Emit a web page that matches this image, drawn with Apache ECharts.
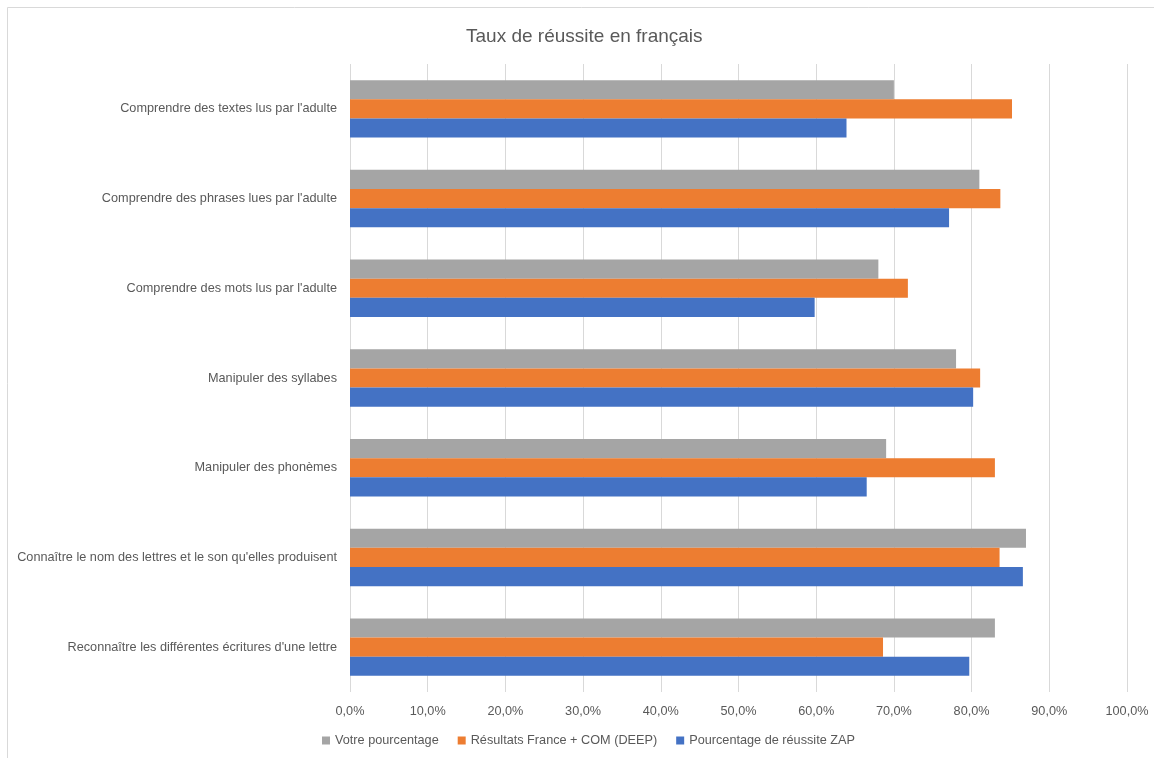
<!DOCTYPE html>
<html>
<head>
<meta charset="utf-8">
<script src="https://cdn.jsdelivr.net/npm/echarts@6/dist/echarts.min.js"></script>
<style>
html,body{margin:0;padding:0;background:#fff;}
#chart{width:1154px;height:758px;}
</style>
</head>
<body>
<div id="chart"></div>
<script>
// Categories listed bottom to top (ECharts category y-axis starts at the bottom)
var categories = [
  "Reconnaître les différentes écritures d'une lettre",
  "Connaître le nom des lettres et le son qu'elles produisent",
  "Manipuler des phonèmes",
  "Manipuler des syllabes",
  "Comprendre des mots lus par l'adulte",
  "Comprendre des phrases lues par l'adulte",
  "Comprendre des textes lus par l'adulte"
];
var votrePourcentage = [83.0, 87.0, 69.0, 78.0, 68.0, 81.0, 70.0];
var resultatsFrance = [68.6, 83.6, 83.0, 81.1, 71.8, 83.7, 85.2];
var pourcentageZAP = [79.7, 86.6, 66.5, 80.2, 59.8, 77.1, 63.9];
var seriesNames = ["Votre pourcentage", "Résultats France + COM (DEEP)", "Pourcentage de réussite ZAP"];
var titleText = "Taux de réussite en français";

var FONT = "Liberation Sans";
var TXT = "#595959";
var FS = 12.7;

var chart = echarts.init(document.getElementById('chart'));
chart.setOption({
  animation: false,
  backgroundColor: '#fff',
  graphic: [{
    type: 'rect',
    shape: {x: 7.5, y: 7.5, width: 1160, height: 1000},
    style: {fill: 'none', stroke: '#d9d9d9', lineWidth: 1},
    silent: true
  }],
  title: {
    text: titleText,
    left: 461,
    top: 22,
    textStyle: {fontFamily: FONT, fontSize: 19, fontWeight: 'normal', color: TXT}
  },
  legend: {
    bottom: 6,
    left: 317,
    data: seriesNames,
    itemWidth: 8,
    itemHeight: 8,
    itemGap: 19,
    icon: 'rect',
    textStyle: {fontFamily: FONT, fontSize: FS, color: TXT}
  },
  grid: {left: 350, right: 27, top: 64, bottom: 66, containLabel: false},
  xAxis: {
    type: 'value',
    min: 0,
    max: 100,
    interval: 10,
    axisLine: {show: false},
    axisTick: {show: false},
    splitLine: {lineStyle: {color: '#d9d9d9', width: 1}},
    axisLabel: {
      fontFamily: FONT, fontSize: FS, color: TXT, margin: 13,
      formatter: function (v) { return v.toFixed(1).replace('.', ',') + '%'; }
    }
  },
  yAxis: {
    type: 'category',
    data: categories,
    axisLine: {show: false},
    axisTick: {show: false},
    axisLabel: {fontFamily: FONT, fontSize: FS, color: TXT, margin: 13}
  },
  series: [
    {name: seriesNames[0], type: 'bar', data: votrePourcentage, itemStyle: {color: '#a5a5a5'}, barGap: '0%', barCategoryGap: '36%'},
    {name: seriesNames[1], type: 'bar', data: resultatsFrance, itemStyle: {color: '#ed7d31'}, barGap: '0%', barCategoryGap: '36%'},
    {name: seriesNames[2], type: 'bar', data: pourcentageZAP, itemStyle: {color: '#4472c4'}, barGap: '0%', barCategoryGap: '36%'}
  ]
});
</script>
</body>
</html>
